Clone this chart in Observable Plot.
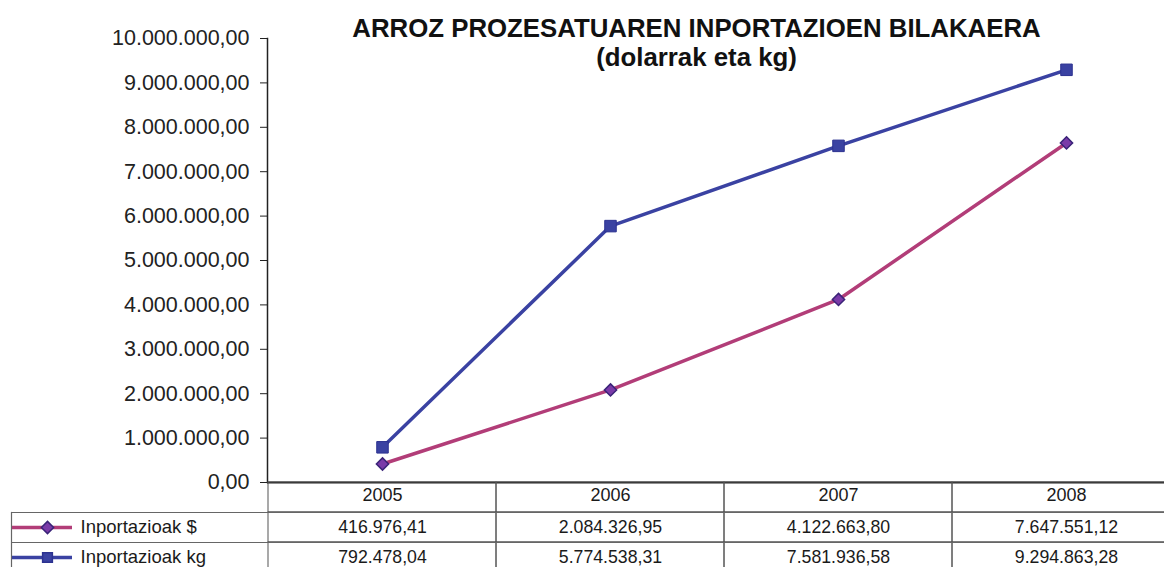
<!DOCTYPE html>
<html>
<head>
<meta charset="utf-8">
<script src="https://cdn.jsdelivr.net/npm/d3@7"></script>
<script src="https://cdn.jsdelivr.net/npm/@observablehq/plot@0.6"></script>
<style>
  html, body { margin: 0; padding: 0; background: #fff; }
  #chart svg { display: block; overflow: visible; }
</style>
</head>
<body>
<div id="chart"></div>
<script>
// ---- data ----
const years = [2005, 2006, 2007, 2008];
const importsUSD = [416976.41, 2084326.95, 4122663.80, 7647551.12];
const importsKg = [792478.04, 5774538.31, 7581936.58, 9294863.28];
const seriesNames = ["Inportazioak $", "Inportazioak kg"];
const yTicks = [0, 1000000, 2000000, 3000000, 4000000, 5000000, 6000000, 7000000, 8000000, 9000000, 10000000];
const titleLines = ["ARROZ PROZESATUAREN INPORTAZIOEN BILAKAERA", "(dolarrak eta kg)"];

// ---- derived ----
const locale = d3.formatLocale({decimal: ",", thousands: ".", grouping: [3], currency: ["", ""]});
const fmt = locale.format(",.2f");
const usdColor = "#b23d78", kgColor = "#3a42a2";
const usdData = years.map((y, i) => ({year: y, value: importsUSD[i]}));
const kgData = years.map((y, i) => ({year: y, value: importsKg[i]}));
const font = "'Liberation Sans', Arial, Helvetica, sans-serif";
const W = 1164;
const xRange = [267, 1181];

const chart = Plot.plot({
  width: W, height: 483,
  marginTop: 38, marginBottom: 1, marginLeft: 267, marginRight: 0,
  style: {fontFamily: font, fontSize: "21px", color: "#222", background: "#fff", overflow: "visible"},
  x: {type: "point", domain: years, range: xRange, padding: 0.5, axis: null},
  y: {domain: [0, 10000000], range: [482, 38]},
  marks: [
    Plot.axisY({ticks: yTicks, tickFormat: fmt, tickSize: 7, tickPadding: 11, fontSize: 21.5, stroke: "#222", label: null}),
    Plot.frame({anchor: "left", stroke: "#222", strokeWidth: 1.5}),
    Plot.ruleY([0], {stroke: "#222", strokeWidth: 2}),
    Plot.line(kgData, {x: "year", y: "value", stroke: kgColor, strokeWidth: 3.5}),
    Plot.line(usdData, {x: "year", y: "value", stroke: usdColor, strokeWidth: 3.5}),
    Plot.dot(kgData, {x: "year", y: "value", symbol: "square", r: 6.5, fill: kgColor, stroke: "#2c3290", strokeWidth: 1}),
    Plot.dot(usdData, {x: "year", y: "value", symbol: "diamond2", r: 5.5, fill: "#7a3aa8", stroke: "#3a2378", strokeWidth: 1.5}),
    Plot.text([titleLines[0]], {frameAnchor: "top", dx: -19.5, dy: -10, text: d => d, fontSize: 25.8, fontWeight: "bold", fill: "#111", lineAnchor: "middle"}),
    Plot.text([titleLines[1]], {frameAnchor: "top", dx: -19.5, dy: 19, text: d => d, fontSize: 25.8, fontWeight: "bold", fill: "#111", lineAnchor: "middle"})
  ]
});

// ---- table ----
const rows = ["hdr", seriesNames[0], seriesNames[1]];
const cells = [];
years.forEach((y, i) => {
  cells.push({year: y, row: "hdr", text: String(y)});
  cells.push({year: y, row: seriesNames[0], text: fmt(importsUSD[i])});
  cells.push({year: y, row: seriesNames[1], text: fmt(importsKg[i])});
});
const legend = [
  {row: seriesNames[0], color: usdColor, symbol: "diamond2", fill: "#7a3aa8", stroke: "#3a2378"},
  {row: seriesNames[1], color: kgColor, symbol: "square", fill: kgColor, stroke: "#2c3290"}
];

const table = Plot.plot({
  width: W, height: 84,
  marginTop: 29, marginBottom: 0, marginLeft: 11, marginRight: 0,
  style: {fontFamily: font, fontSize: "18px", color: "#222", background: "transparent"},
  x: {type: "band", domain: years, range: xRange, padding: 0, axis: null},
  y: {type: "band", domain: rows, range: [-1, 89], padding: 0, axis: null},
  marks: [
    Plot.cell(cells, {x: "year", y: "row", fill: "none", stroke: "#555", strokeWidth: 1}),
    Plot.ruleY([seriesNames[0], seriesNames[1]], {y: d => d, dy: -15, stroke: "#666", strokeWidth: 1.2}),
    Plot.frame({anchor: "left", stroke: "#666", strokeWidth: 1.2}),
    Plot.text(cells.filter(d => d.row === "hdr"), {x: "year", y: "row", dy: -2, text: "text", fontSize: 18, fill: "#1a1a1a"}),
    Plot.text(cells.filter(d => d.row !== "hdr"), {x: "year", y: "row", text: "text", fontSize: 17.7, fill: "#1a1a1a"}),
    Plot.ruleY(legend, {y: "row", stroke: "color", strokeWidth: 3.5, insetLeft: 1, insetRight: W - 72}),
    Plot.dot(legend, {y: "row", frameAnchor: "left", dx: 36, symbol: "symbol", fill: "fill", stroke: "stroke", r: 5.5}),
    Plot.text(legend, {y: "row", frameAnchor: "left", dx: 69, text: "row", textAnchor: "start", fontSize: 18.5, fill: "#1a1a1a"})
  ]
});

const root = document.getElementById("chart");
root.appendChild(chart);
root.appendChild(table);
</script>
</body>
</html>
